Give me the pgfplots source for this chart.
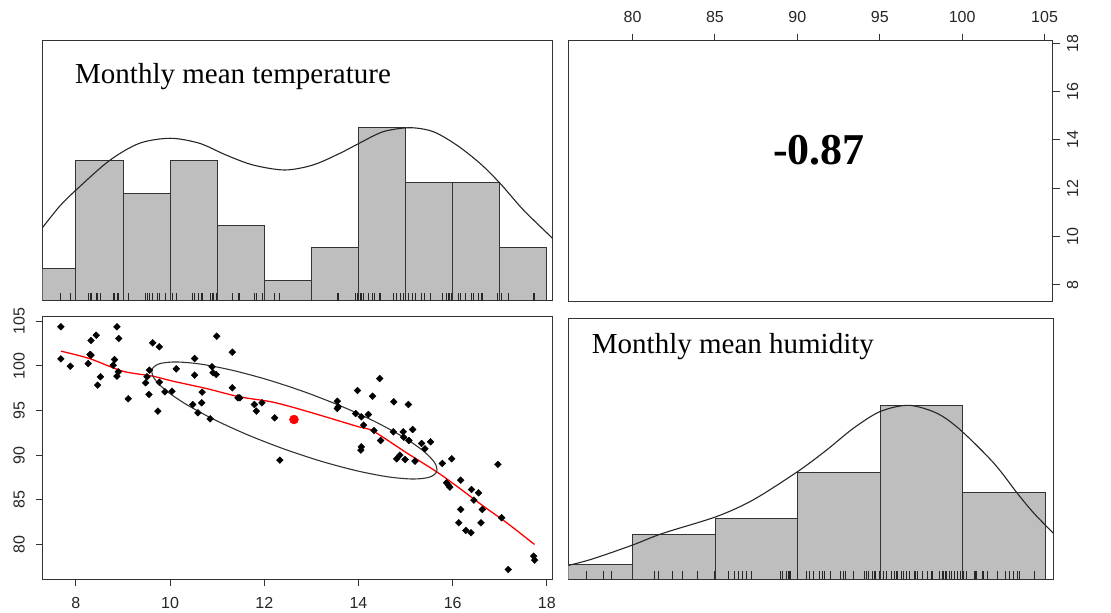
\documentclass[border=0pt]{standalone}
\usepackage{pgfplots}
\usepackage{pgfplotstable}
\usepackage{fontspec}
\setmainfont{Liberation Serif}
\setsansfont{Liberation Sans}
\pgfplotsset{compat=1.18}
\definecolor{bargray}{HTML}{BEBEBE}
\definecolor{framegray}{HTML}{333333}

\pgfplotstableread{
temp humid
7.68 104.37
7.68 100.78
7.88 99.96
8.26 100.26
8.30 101.27
8.32 101.20
8.32 102.84
8.43 103.43
8.52 98.77
8.46 97.84
8.79 100.07
8.82 100.70
8.87 104.37
8.91 103.06
8.90 99.33
8.87 98.84
9.11 96.31
9.63 102.57
9.77 102.13
9.56 99.51
9.51 98.77
9.48 98.10
9.55 96.79
9.74 94.93
9.77 98.17
9.89 97.09
10.04 97.16
10.13 99.66
10.52 100.82
10.52 98.96
10.48 95.67
10.59 94.74
10.68 97.05
10.67 95.86
10.85 94.07
10.89 99.89
10.91 99.22
10.98 99.03
10.99 103.32
11.32 101.53
11.32 97.54
11.44 96.42
11.48 96.42
11.79 95.67
11.83 94.93
11.95 95.86
12.22 94.18
12.33 89.44
13.55 96.04
13.55 95.22
13.57 95.41
13.98 97.24
13.94 94.66
14.06 94.29
14.11 93.36
14.21 94.55
14.30 96.60
14.33 92.76
14.45 98.58
14.47 91.64
14.06 90.93
14.05 90.56
14.75 95.97
14.74 92.61
14.95 92.61
14.96 92.01
15.07 91.64
15.06 95.67
15.15 92.87
14.88 90.00
14.81 89.59
14.99 89.51
15.20 89.33
15.34 91.31
15.41 90.71
15.53 91.49
15.78 89.07
15.98 89.59
15.87 86.90
15.91 86.64
15.94 86.42
16.17 87.20
16.17 83.92
16.13 82.43
16.28 81.57
16.39 81.31
16.40 86.16
16.55 85.78
16.45 84.96
16.63 83.92
16.60 82.43
16.96 88.96
17.04 82.99
17.18 77.20
17.72 78.69
17.74 78.25
}\pts

\pgfplotsset{
  panel/.style={
    scale only axis,
    axis line style={framegray, line width=1.1pt},
    tick style={framegray, line width=1pt},
    tick align=outside,
    major tick length=7pt,
    ticklabel style={font=\sffamily\fontsize{16}{16}\selectfont, text=black!85},
    /pgf/number format/assume math mode=true,
  },
  histbar/.style={ybar interval, fill=bargray, draw=framegray, line width=1pt},
  dens/.style={black!85, line width=1.1pt, smooth, mark=none},
  rug/.style={ycomb, black!85, line width=0.8pt, mark=none},
}

\begin{document}
\begin{tikzpicture}[x=1pt,y=1pt]
\useasboundingbox (0,0) rectangle (1111,613);

% ---------- top-left: temperature histogram ----------
\begin{axis}[panel, at={(42.5pt,312.3pt)}, anchor=south west,
  width=510pt, height=260pt,
  xmin=7.29, xmax=18.12, ymin=0, ymax=1.5,
  xtick=\empty, ytick=\empty]
\addplot[histbar] coordinates {(7,0.183) (8,0.808) (9,0.620) (10,0.808) (11,0.431) (12,0.115) (13,0.308) (14,1.0) (15,0.681) (16,0.681) (17,0.308) (18,0.308)};
\addplot[dens] coordinates {(7.277,0.417) (7.645,0.542) (8.0,0.638) (8.709,0.808) (9.348,0.908) (10.007,0.937) (10.624,0.908) (11.191,0.840) (11.759,0.783) (12.433,0.754) (13.035,0.783) (13.603,0.850) (14.014,0.908) (14.525,0.975) (15.092,0.998) (15.589,0.975) (16.085,0.898) (16.582,0.792) (17.007,0.677) (17.504,0.523) (18.121,0.360)};
\addplot[rug] table[x=temp, y expr=0.045] {\pts};
\end{axis}

% ---------- top-right: correlation ----------
\begin{axis}[panel, at={(568.3pt,311.3pt)}, anchor=south west,
  width=484.5pt, height=261pt,
  xmin=76.1, xmax=105.5, ymin=7.29, ymax=18.12,
  xtick={80,85,...,105}, ytick={8,10,...,18},
  xtick pos=right, xticklabel pos=right,
  ytick pos=right, yticklabel pos=right,
  xticklabel style={anchor=south, inner sep=11pt},
  yticklabel style={rotate=90, anchor=north, inner sep=7pt}]
\addplot[draw=none, mark=none] coordinates {(80,8)};
\end{axis}
\node[font=\bfseries\fontsize{44}{44}\selectfont] at (819,463) {-0.87};

% ---------- bottom-left: scatter ----------
\begin{axis}[panel, at={(42.5pt,33.7pt)}, anchor=south west,
  width=510pt, height=262.6pt,
  xmin=7.29, xmax=18.12, ymin=76.1, ymax=105.5,
  xtick={8,10,...,18}, ytick={80,85,...,105},
  xtick pos=left, xticklabel pos=left,
  ytick pos=left, yticklabel pos=left,
  xticklabel style={anchor=north, inner sep=11pt},
  yticklabel style={rotate=90, anchor=south, inner sep=10.5pt}]
\addplot[only marks, mark=square*, mark size=2.4pt, mark options={rotate=45}, black] table[x=temp, y=humid] {\pts};
\addplot[red, line width=1.3pt, smooth, mark=none] coordinates {(7.681,101.642) (8.284,100.821) (8.993,99.403) (9.631,98.843) (10.057,98.284) (10.766,97.463) (11.475,96.530) (12.184,95.933) (12.894,94.925) (13.957,93.246) (14.312,92.687) (15.021,90.261) (15.660,88.134) (16.085,86.530) (16.652,84.291) (17.149,82.425) (17.738,80.0)};
\addplot[framegray, line width=1.1pt, smooth cycle, mark=none] coordinates {(15.661,88.157) (15.501,87.522) (15.147,87.328) (14.621,87.575) (13.960,88.254) (13.210,89.313) (12.420,90.687) (11.645,92.276) (10.938,93.978) (10.346,95.672) (9.911,97.239) (9.662,98.582) (9.616,99.604) (9.775,100.239) (10.130,100.433) (10.655,100.187) (11.316,99.507) (12.067,98.448) (12.857,97.075) (13.631,95.485) (14.339,93.784) (14.930,92.090) (15.365,90.522) (15.615,89.179)};
\addplot[only marks, mark=*, mark size=4.5pt, red] coordinates {(12.63,93.99)};
\end{axis}

% ---------- bottom-right: humidity histogram ----------
\begin{axis}[panel, at={(568.3pt,33.7pt)}, anchor=south west,
  width=485pt, height=261pt,
  xmin=76.1, xmax=105.5, ymin=0, ymax=1.5,
  xtick=\empty, ytick=\empty]
\addplot[histbar] coordinates {(75,0.086) (80,0.26) (85,0.35) (90,0.615) (95,1.0) (100,0.498) (105,0.498)};
\addplot[dens] coordinates {(76.05,0.0785) (77.57,0.117) (80,0.197) (81.82,0.264) (85.07,0.360) (87.30,0.456) (90.0,0.619) (91.76,0.743) (93.38,0.868) (95.0,0.964) (96.73,1.0) (98.45,0.954) (99.87,0.858) (101.90,0.667) (103.32,0.494) (104.33,0.379) (105.51,0.264)};
\addplot[rug] table[x=humid, y expr=0.045] {\pts};
\end{axis}

\node[anchor=base west, font=\fontsize{29}{29}\selectfont, inner sep=0pt] at (75,529) {Monthly mean temperature};
\node[anchor=base west, font=\fontsize{29}{29}\selectfont, inner sep=0pt] at (591.7,259.7) {Monthly mean humidity};
\end{tikzpicture}
\end{document}
